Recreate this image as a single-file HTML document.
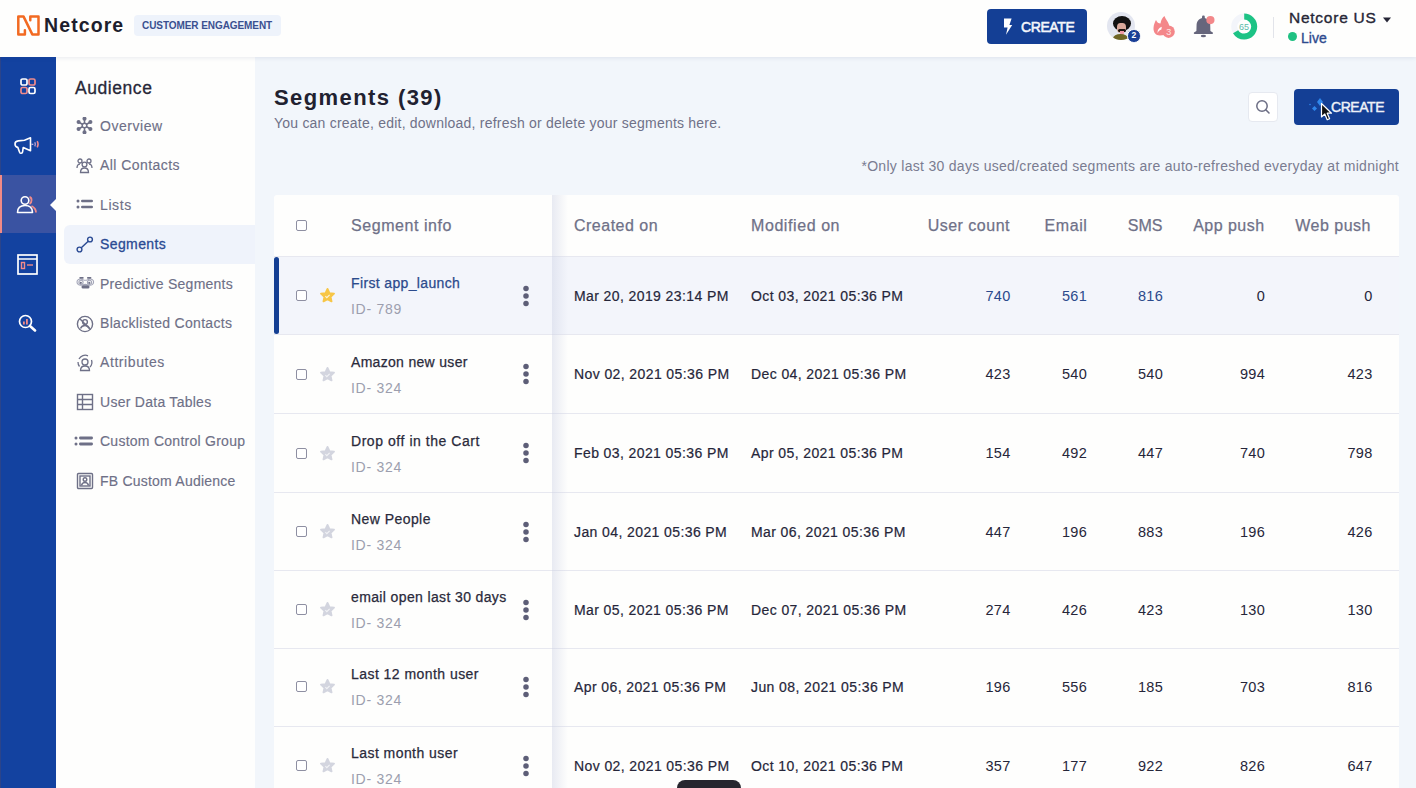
<!DOCTYPE html>
<html><head><meta charset="utf-8"><title>Segments</title>
<style>
*{box-sizing:border-box;margin:0;padding:0}
html,body{width:1416px;height:788px;overflow:hidden;background:#f2f6fb;font-family:"Liberation Sans",sans-serif;color:#26263a}
.a{position:absolute;white-space:nowrap}
#top{position:absolute;left:0;top:0;width:1416px;height:57px;background:#fefefd;box-shadow:0 1px 4px rgba(40,60,110,0.10);z-index:5}
#rail{position:absolute;left:0;top:57px;width:56px;height:731px;background:#1342a0;z-index:3}
#side{position:absolute;left:56px;top:57px;width:199px;height:731px;background:#fefefd;z-index:2}
.nav{position:absolute;left:44px;font-size:14px;line-height:16px;color:#6e7087;white-space:nowrap;-webkit-text-stroke:0.15px currentColor}
.nav svg{position:absolute;top:-0.5px;margin-left:1px}
.btn{position:absolute;background:#143f95;color:#fff;border-radius:4px;font-weight:bold;font-size:14px}
.row{position:absolute;left:274px;width:1125px;background:#fefefd;border-bottom:1px solid #e7e8f0}
.cb{position:absolute;left:22px;width:11px;height:11px;border:1.3px solid #8e8fa2;border-radius:2px;background:#fff}
.st{position:absolute;left:45px}
.nm{position:absolute;left:77px;font-size:14px;line-height:16px;color:#2a2a3b;white-space:nowrap;-webkit-text-stroke:0.25px currentColor}
.id{position:absolute;left:77px;font-size:14px;line-height:16px;color:#9c9eae;white-space:nowrap}
.kb{position:absolute;left:248px}
.d{position:absolute;font-size:14px;line-height:16px;color:#26263a;white-space:nowrap;-webkit-text-stroke:0.2px currentColor}
.n{position:absolute;font-size:14.5px;line-height:16px;color:#26263a;text-align:right;width:60px}
.hdr{position:absolute;top:217px;font-size:16px;line-height:18px;color:#6f7188;white-space:nowrap;-webkit-text-stroke:0.25px currentColor}
</style></head>
<body>
<div id="top">
  <svg class="a" style="left:17px;top:15px" width="23" height="22" viewBox="0 0 23 22"><path d="M7.9 15.2 V19.4 H1.3 V1.6 H6.6 L15.3 19.4 H21.5 V1.6 H13.3 V5.2" fill="none" stroke="#f26a22" stroke-width="2.5" stroke-linejoin="round" stroke-linecap="round"/></svg>
  <div class="a" style="left:44px;top:15px;font-size:19.5px;line-height:21px;font-weight:bold;color:#1e1e2d"><span class="k_netcore" style="letter-spacing:1.1px">Netcore</span></div>
  <div class="a" style="left:134px;top:15px;width:147px;height:21px;background:#eef3fb;border-radius:4px"></div>
  <div class="a" style="left:142px;top:20px;font-size:10px;line-height:12px;font-weight:bold;color:#3a5090"><span class="k_ce" style="letter-spacing:-0.07px">CUSTOMER ENGAGEMENT</span></div>
  <div class="btn" style="left:987px;top:9px;width:100px;height:35px"></div>
  <svg class="a" style="left:1003px;top:18px" width="10" height="17" viewBox="0 0 10 17"><path d="M1 0.6 H8.6 L6.4 7 H9.2 L3 16.8 L4.6 9.6 H1 Z" fill="#fff"/></svg>
  <div class="a" style="left:1021px;top:19px;font-size:14px;line-height:16px;color:#f4f6fb;-webkit-text-stroke:0.55px #f4f6fb"><span class="k_create1" style="letter-spacing:-0.4px">CREATE</span></div>
  <div class="a" style="left:1107px;top:12px;width:28px;height:28px;border-radius:50%;background:#e3e6f0;overflow:hidden">
    <div class="a" style="left:5.5px;top:4px;width:18px;height:15px;border-radius:50%;background:#121212"></div>
    <div class="a" style="left:10px;top:11px;width:9px;height:10px;border-radius:40%;background:#d9a89a"></div>
    <div class="a" style="left:10.5px;top:16.5px;width:8px;height:3px;border-radius:2px;background:#1d1410"></div>
    <div class="a" style="left:12.5px;top:19px;width:4px;height:3.5px;border-radius:0 0 2px 2px;background:#f09aa6"></div>
    <div class="a" style="left:6px;top:22px;width:15px;height:9px;border-radius:50%;background:#6f6526"></div>
  </div>
  <div class="a" style="left:1127px;top:29px;width:13.5px;height:13.5px;border-radius:50%;background:#1a3f96;border:1px solid #fff;color:#fff;font-size:8.5px;font-weight:bold;line-height:11.5px;text-align:center">2</div>
  <svg class="a" style="left:1152px;top:14px" width="24" height="26" viewBox="0 0 24 26"><path d="M8 21.5 C3.5 21.5 1.3 18 1.5 14 C1.7 10.5 3 8 4 6 C5 8.5 6.5 9.5 8.5 9.5 C9 6 10.5 3.5 12.5 2 C13.5 5.5 17 8 17.5 13 C18 18 14 21.5 8 21.5 Z" fill="#f4878a"/><path d="M9.8 12.8 C6.8 13.6 5.2 16.2 5.6 19.2 C6.4 17.2 7.8 16 9.4 15.6 Z" fill="#fff"/><circle cx="16.6" cy="17.7" r="6.2" fill="#f4878a"/><text x="16.8" y="21" font-size="9" fill="#fde6e6" text-anchor="middle" font-family="Liberation Sans">3</text></svg>
  <svg class="a" style="left:1192px;top:14px" width="24" height="24" viewBox="0 0 24 24"><path d="M11.4 3.8 C7.8 4.3 5 6.5 4.6 10.5 L4.4 17 L2 18.6 C1.6 19.2 1.8 20 2.6 20 H20.2 C21 20 21.2 19.2 20.8 18.6 L18.4 17 L18.2 10.5 C17.8 6.5 15 4.3 11.4 3.8 Z" fill="#66667c"/><rect x="10" y="1.6" width="2.8" height="3.4" rx="1.2" fill="#66667c"/><ellipse cx="11.4" cy="22" rx="2.6" ry="1.2" fill="#66667c"/><circle cx="18.4" cy="6.1" r="4.1" fill="#f3888a"/></svg>
  <svg class="a" style="left:1230px;top:13px" width="28" height="28" viewBox="0 0 28 28"><circle cx="14.2" cy="13.6" r="10" fill="none" stroke="#f3f5fa" stroke-width="6"/><circle cx="14.2" cy="13.6" r="10" fill="none" stroke="#1dc385" stroke-width="6" stroke-dasharray="41.5 100" transform="rotate(-90 14.2 13.6)"/><text x="14" y="17" font-size="9" fill="#5cbcaa" text-anchor="middle" font-family="Liberation Sans">65</text></svg>
  <div class="a" style="left:1273px;top:17px;width:1px;height:21px;background:#e2e4ea"></div>
  <div class="a" style="left:1289px;top:9px;font-size:15.5px;line-height:17px;color:#262636;-webkit-text-stroke:0.35px currentColor"><span class="k_ncus" style="letter-spacing:0.75px">Netcore US</span></div>
  <svg class="a" style="left:1383px;top:17px" width="8" height="6" viewBox="0 0 8 6"><path d="M0 0.5 H8 L4 5.5 Z" fill="#262636"/></svg>
  <div class="a" style="left:1288px;top:32px;width:9px;height:9px;border-radius:50%;background:#1fc182"></div>
  <div class="a" style="left:1301px;top:29.5px;font-size:14px;line-height:16px;color:#2e4a8e;-webkit-text-stroke:0.35px currentColor"><span class="k_live" style="letter-spacing:0.07px">Live</span></div>
</div>
<div id="rail"><div class="a" style="left:0;top:0;width:1px;height:731px;background:#2b448a"></div>
  <svg class="a" style="left:20px;top:21px" width="16" height="17" viewBox="0 0 16 17"><rect x="1" y="1" width="6" height="6" rx="1.6" fill="none" stroke="#fff" stroke-width="1.7"/><rect x="9" y="1" width="6" height="6" rx="1.6" fill="none" stroke="#f08a8a" stroke-width="1.7"/><rect x="1" y="9.5" width="6" height="6" rx="1.6" fill="none" stroke="#f08a8a" stroke-width="1.7"/><rect x="9" y="9.5" width="6" height="6" rx="1.6" fill="none" stroke="#fff" stroke-width="1.7"/></svg>
  <svg class="a" style="left:14px;top:79px" width="27" height="19" viewBox="0 0 27 19"><path d="M16.5 1.8 L16.5 14.8 L9.2 11.6 L8.6 15.8 C8.3 17.6 6.2 17.8 5.6 16.3 L3.8 11.4 C2 11 1 9.6 1 8 C1 6.1 2.2 5.1 4.2 4.9 L10.5 4.2 Z" fill="none" stroke="#fff" stroke-width="1.6" stroke-linejoin="round"/><path d="M17.5 8.3 H19.3" stroke="#d9c4e4" stroke-width="1.2"/><path d="M20.8 6.2 Q22 8.3 20.8 10.4" fill="none" stroke="#c8a9d6" stroke-width="1.3"/><path d="M23.2 5.2 Q25 8.3 23.2 11.4" fill="none" stroke="#ef8a8e" stroke-width="1.5"/></svg>
  <div class="a" style="left:0;top:118px;width:56px;height:58px;background:#3a53a2"></div>
  <div class="a" style="left:0;top:118px;width:2px;height:58px;background:#f28a86"></div>
  <svg class="a" style="left:16px;top:138px" width="24" height="19" viewBox="0 0 24 19"><circle cx="9" cy="5.5" r="3.8" fill="none" stroke="#fff" stroke-width="1.6"/><path d="M1.5 17.5 C1.5 12 5 10.5 9 10.5 C13 10.5 16.5 12 16.5 17.5 Z" fill="none" stroke="#fff" stroke-width="1.6" stroke-linejoin="round"/><path d="M13.5 2 C16 2.5 16.5 7 13.5 9" fill="none" stroke="#f08a8a" stroke-width="1.8"/><path d="M15.5 11 C18.5 12.5 20 15 20 17.5" fill="none" stroke="#f08a8a" stroke-width="1.8"/></svg>
  <svg class="a" style="left:50px;top:142px" width="6" height="12" viewBox="0 0 6 12"><path d="M6 0 L0 6 L6 12 Z" fill="#fefefd"/></svg>
  <svg class="a" style="left:17px;top:197px" width="21" height="21" viewBox="0 0 21 21"><rect x="1" y="1" width="19" height="19" fill="none" stroke="#fff" stroke-width="1.7"/><path d="M1 5 H20" stroke="#fff" stroke-width="1.5"/><rect x="4.5" y="8.5" width="3" height="6" fill="none" stroke="#f08a8a" stroke-width="1.4"/><path d="M10 11 H16" stroke="#f08a8a" stroke-width="1.4"/></svg>
  <svg class="a" style="left:18px;top:257px" width="19" height="18" viewBox="0 0 19 18"><circle cx="7.5" cy="7.5" r="6" fill="none" stroke="#fff" stroke-width="1.7"/><path d="M12 12 L17 16.5" stroke="#fff" stroke-width="2.6" stroke-linecap="round"/><rect x="5" y="7.5" width="1.8" height="3" fill="#f08a8a"/><rect x="8" y="5" width="1.8" height="5.5" fill="#f08a8a"/></svg>
</div>
<div id="side">
<div class="a" style="left:19px;top:21px;font-size:17.5px;line-height:20px;color:#282838;-webkit-text-stroke:0.3px currentColor"><span class="k_aud" style="letter-spacing:0.56px">Audience</span></div>
<div class="a" style="left:8px;top:168px;width:191px;height:39px;background:#eff3fb;border-radius:6px 0 0 6px"></div>
<div class="nav" style="top:60.9px"><span class="k_nav0" style="letter-spacing:0.53px">Overview</span><svg width="17" height="17" viewBox="0 0 17 17" style="left:-25px"><g stroke="#6e7087" stroke-width="1.5" fill="#6e7087"><path d="M8.5 1.5 V15.5 M2.5 5 L14.5 12 M2.5 12 L14.5 5"/><circle cx="8.5" cy="8.5" r="2.3" fill="#fff"/><circle cx="8.5" cy="1.7" r="1.3"/><circle cx="8.5" cy="15.3" r="1.3"/><circle cx="2.6" cy="5" r="1.3"/><circle cx="14.4" cy="12" r="1.3"/><circle cx="2.6" cy="12" r="1.3"/><circle cx="14.4" cy="5" r="1.3"/></g></svg></div>
<div class="nav" style="top:100.3px"><span class="k_nav1" style="letter-spacing:0.44px">All Contacts</span><svg width="17" height="17" viewBox="0 0 17 17" style="left:-25px"><g stroke="#6e7087" stroke-width="1.3" fill="none"><circle cx="8.5" cy="7.5" r="2.4"/><path d="M4.5 15.5 C4.5 12 6.5 11 8.5 11 C10.5 11 12.5 12 12.5 15.5 Z"/><circle cx="4" cy="4" r="2"/><circle cx="13" cy="4" r="2"/><path d="M1 11 C1 8 2.5 7 4 7 M16 11 C16 8 14.5 7 13 7"/></g></svg></div>
<div class="nav" style="top:139.7px"><span class="k_nav2" style="letter-spacing:0.6px">Lists</span><svg width="18" height="17" viewBox="0 0 18 17" style="left:-25px"><g fill="#6e7087"><circle cx="2" cy="5" r="1.5"/><circle cx="2" cy="11" r="1.5"/><rect x="5" y="3.8" width="12" height="2.4" rx="1.2"/><rect x="5" y="9.8" width="12" height="2.4" rx="1.2"/></g></svg></div>
<div class="nav" style="top:179.2px;color:#2a4a93;-webkit-text-stroke:0.3px #2a4a93"><span class="k_nav3" style="letter-spacing:0.4px">Segments</span><svg width="18" height="17" viewBox="0 0 18 17" style="left:-25px"><g stroke="#2a4a93" stroke-width="1.4" fill="none"><circle cx="3.5" cy="13.5" r="2.4"/><circle cx="14" cy="3.5" r="2.4"/><path d="M5.3 11.7 L12.2 5.3"/></g></svg></div>
<div class="nav" style="top:218.6px"><span class="k_nav4" style="letter-spacing:0.24px">Predictive Segments</span><svg width="19" height="17" viewBox="0 0 19 17" style="left:-25.5px"><g fill="none" stroke="#a4a6b8" stroke-width="1.1"><path d="M1 7 C1 4.6 3.5 3.6 5.5 4.2 C7 4.6 8 5.2 9.3 5.2 C10.6 5.2 11.6 4.6 13.1 4.2 C15.1 3.6 17.6 4.6 17.6 7 C17.6 9.4 15.4 10.6 13.2 10.2 C11.8 10 10.8 9.4 9.3 9.4 C7.8 9.4 6.8 10 5.4 10.2 C3.2 10.6 1 9.4 1 7 Z"/><circle cx="5" cy="7.3" r="2.1"/><circle cx="13.5" cy="7.3" r="2.1"/></g><g fill="#6e7087"><rect x="3.3" y="2" width="4.4" height="1.7" rx="0.8"/><rect x="11" y="2" width="4.4" height="1.7" rx="0.8"/><circle cx="4.8" cy="7.8" r="1.1"/><circle cx="13.3" cy="7.8" r="1.1"/><rect x="5.5" y="10.3" width="8" height="3.3" rx="1.5"/></g></svg></div>
<div class="nav" style="top:258.0px"><span class="k_nav5" style="letter-spacing:0.31px">Blacklisted Contacts</span><svg width="18" height="18" viewBox="0 0 18 18" style="left:-25px"><g stroke="#6e7087" stroke-width="1.4" fill="none"><circle cx="9" cy="9" r="7.6"/><circle cx="9" cy="7" r="2.4"/><path d="M4.5 13.5 C5.5 11 7 10.5 9 10.5 C11 10.5 12.5 11 13.5 13.5"/><path d="M3.6 3.6 L14.4 14.4"/></g></svg></div>
<div class="nav" style="top:297.4px"><span class="k_nav6" style="letter-spacing:0.58px">Attributes</span><svg width="18" height="18" viewBox="0 0 18 18" style="left:-25px"><g stroke="#6e7087" stroke-width="1.3" fill="none"><circle cx="9" cy="8" r="3"/><path d="M4.5 16.5 C4.5 13 6.5 12 9 12 C11.5 12 13.5 13 13.5 16.5 Z"/><path d="M3 5 A7 7 0 0 1 12 1.8 M15.5 6 A7 7 0 0 1 14 13 M2 8 A7 7 0 0 0 3.5 12.5"/></g></svg></div>
<div class="nav" style="top:336.8px"><span class="k_nav7" style="letter-spacing:0.27px">User Data Tables</span><svg width="18" height="18" viewBox="0 0 18 18" style="left:-25px"><g stroke="#6e7087" stroke-width="1.4" fill="none"><rect x="1.5" y="1.5" width="15" height="15"/><path d="M1.5 6.5 H16.5 M1.5 11.5 H16.5 M6.5 1.5 V16.5"/></g></svg></div>
<div class="nav" style="top:376.3px"><span class="k_nav8" style="letter-spacing:0.26px">Custom Control Group</span><svg width="20" height="17" viewBox="0 0 20 17" style="left:-27px"><g fill="#6e7087"><circle cx="2" cy="5" r="1.5"/><circle cx="2" cy="11" r="1.5"/><rect x="5" y="3.6" width="14" height="2.8" rx="1.4"/><rect x="5" y="9.6" width="14" height="2.8" rx="1.4"/></g></svg></div>
<div class="nav" style="top:415.7px"><span class="k_nav9" style="letter-spacing:0.22px">FB Custom Audience</span><svg width="18" height="18" viewBox="0 0 18 18" style="left:-25px"><g stroke="#6e7087" stroke-width="1.4" fill="none"><rect x="1.5" y="1.5" width="15" height="15" rx="1"/><rect x="4" y="4" width="10" height="10"/><circle cx="9" cy="7.5" r="1.8"/><path d="M5.5 13.5 C6 11 7.5 10.5 9 10.5 C10.5 10.5 12 11 12.5 13.5"/></g></svg></div>
</div>

<div class="a" style="left:274px;top:85px;font-size:22px;line-height:25px;font-weight:bold;color:#212130"><span class="k_title" style="letter-spacing:1.41px">Segments (39)</span></div>
<div class="a" style="left:274px;top:115px;font-size:14px;line-height:16px;color:#6f7188"><span class="k_sub" style="letter-spacing:0.22px">You can create, edit, download, refresh or delete your segments here.</span></div>
<div class="a" style="left:1248px;top:92px;width:30px;height:30px;background:#fff;border:1px solid #e6e9f0;border-radius:4px"></div>
<svg class="a" style="left:1255px;top:99px" width="16" height="16" viewBox="0 0 16 16"><circle cx="7" cy="7" r="5.2" fill="none" stroke="#6b6d84" stroke-width="1.5"/><path d="M10.8 10.8 L14 14" stroke="#6b6d84" stroke-width="1.6" stroke-linecap="round"/></svg>
<div class="btn" style="left:1294px;top:89px;width:105px;height:36px"></div>
<div class="a" style="left:1331px;top:99px;font-size:14px;line-height:16px;color:#eef1f8;-webkit-text-stroke:0.45px #eef1f8"><span class="k_create2" style="letter-spacing:-0.45px">CREATE</span></div>
<svg class="a" style="left:1306px;top:97px" width="22" height="18" viewBox="0 0 22 18"><path d="M14 1 L17 5 L14 9 L11 5 Z" fill="#2f86ea"/><path d="M8.5 9 L11 11.5 L8.5 14 L6 11.5 Z" fill="#2f86ea"/><circle cx="4" cy="7.5" r="0.8" fill="#2f86ea"/></svg>
<svg class="a" style="left:1320px;top:102px" width="14" height="20" viewBox="0 0 14 20"><path d="M1.5 1.5 L1.5 15 L4.8 12 L7.2 17.8 L9.6 16.8 L7.2 11.2 L11.5 11.2 Z" fill="#111" stroke="#fff" stroke-width="1.2" stroke-linejoin="round"/></svg>
<div class="a" style="right:17px;top:158px;font-size:14px;line-height:16px;color:#7a7c91"><span class="k_note" style="letter-spacing:0.29px">*Only last 30 days used/created segments are auto-refreshed everyday at midnight</span></div>
<div class="a" style="left:274px;top:195px;width:1125px;height:62px;background:#fefefd;border-bottom:1px solid #e7e8f0;border-radius:3px 3px 0 0"></div>
<div class="a" style="left:296px;top:220px;width:11px;height:11px;border:1.3px solid #8e8fa2;border-radius:2px;background:#fff"></div>
<div class="hdr" style="left:351px"><span class="k_h0" style="letter-spacing:0.56px">Segment info</span></div>
<div class="hdr" style="left:574px"><span class="k_h1" style="letter-spacing:0.49px">Created on</span></div>
<div class="hdr" style="left:751px"><span class="k_h2" style="letter-spacing:0.58px">Modified on</span></div>
<div class="hdr" style="right:406px"><span class="k_h3" style="letter-spacing:0.5px">User count</span></div>
<div class="hdr" style="right:328.5px"><span class="k_h4" style="letter-spacing:0.62px">Email</span></div>
<div class="hdr" style="right:253.5px"><span class="k_h5" style="letter-spacing:0.05px">SMS</span></div>
<div class="hdr" style="right:151.5px"><span class="k_h6" style="letter-spacing:0.47px">App push</span></div>
<div class="hdr" style="right:45px"><span class="k_h7" style="letter-spacing:0.5px">Web push</span></div>
<div class="row" style="top:257px;height:78px;background:#f3f5fb"><div class="a" style="left:0;top:0;width:5px;height:77px;background:#143f93;border-radius:3px"></div><div class="cb" style="top:33.0px"></div><svg class="st" style="left:44.5px;top:30.0px" width="17" height="17" viewBox="0 0 24 24"><path d="M12 2.6 L14.8 8.6 L21.2 9.4 L16.4 13.9 L17.7 20.3 L12 17.1 L6.3 20.3 L7.6 13.9 L2.8 9.4 L9.2 8.6 Z" fill="#f7c646" stroke="#f7c646" stroke-width="2.6" stroke-linejoin="round"/><path d="M9 13 L11 15 L15 11" fill="none" stroke="#fff" stroke-width="1.6" opacity="0.8"/></svg><div class="nm" style="top:18.2px;color:#2b4a8c"><span class="k_nm0" style="letter-spacing:0.36px">First app_launch</span></div><div class="id" style="top:44.1px"><span class="k_id0" style="letter-spacing:0.72px">ID- 789</span></div><svg class="kb" style="top:27.5px" width="8" height="22" viewBox="0 0 8 22"><circle cx="4" cy="3.6" r="2.75" fill="#5d5e77"/><circle cx="4" cy="11" r="2.75" fill="#5d5e77"/><circle cx="4" cy="18.4" r="2.75" fill="#5d5e77"/></svg><div class="d" style="left:300px;top:30.8px"><span class="k_da0" style="letter-spacing:0.4px">Mar 20, 2019 23:14 PM</span></div><div class="d" style="left:477px;top:30.8px"><span class="k_db0" style="letter-spacing:0.4px">Oct 03, 2021 05:36 PM</span></div><div class="n" style="left:676.5px;top:30.8px;color:#2b4a8c"><span class="k_n00" style="letter-spacing:0.3px">740</span></div><div class="n" style="left:753.0px;top:30.8px;color:#2b4a8c"><span class="k_n01" style="letter-spacing:0.3px">561</span></div><div class="n" style="left:829.0px;top:30.8px;color:#2b4a8c"><span class="k_n02" style="letter-spacing:0.3px">816</span></div><div class="n" style="left:931.0px;top:30.8px;color:#26263a"><span class="k_n03" style="letter-spacing:0.3px">0</span></div><div class="n" style="left:1038.5px;top:30.8px;color:#26263a"><span class="k_n04" style="letter-spacing:0.3px">0</span></div></div>
<div class="row" style="top:335px;height:79px;background:#fefefd"><div class="cb" style="top:33.5px"></div><svg class="st" style="left:44.5px;top:30.5px" width="17" height="17" viewBox="0 0 24 24"><path d="M12 2.6 L14.8 8.6 L21.2 9.4 L16.4 13.9 L17.7 20.3 L12 17.1 L6.3 20.3 L7.6 13.9 L2.8 9.4 L9.2 8.6 Z" fill="#d3d5df" stroke="#d3d5df" stroke-width="2.6" stroke-linejoin="round"/><path d="M9 13 L11 15 L15 11" fill="none" stroke="#fff" stroke-width="1.6" opacity="0.7"/></svg><div class="nm" style="top:18.7px;color:#2a2a3b"><span class="k_nm1" style="letter-spacing:0.31px">Amazon new user</span></div><div class="id" style="top:44.6px"><span class="k_id1" style="letter-spacing:0.72px">ID- 324</span></div><svg class="kb" style="top:28.0px" width="8" height="22" viewBox="0 0 8 22"><circle cx="4" cy="3.6" r="2.75" fill="#5d5e77"/><circle cx="4" cy="11" r="2.75" fill="#5d5e77"/><circle cx="4" cy="18.4" r="2.75" fill="#5d5e77"/></svg><div class="d" style="left:300px;top:31.3px"><span class="k_da1" style="letter-spacing:0.4px">Nov 02, 2021 05:36 PM</span></div><div class="d" style="left:477px;top:31.3px"><span class="k_db1" style="letter-spacing:0.4px">Dec 04, 2021 05:36 PM</span></div><div class="n" style="left:676.5px;top:31.3px;color:#26263a"><span class="k_n10" style="letter-spacing:0.3px">423</span></div><div class="n" style="left:753.0px;top:31.3px;color:#26263a"><span class="k_n11" style="letter-spacing:0.3px">540</span></div><div class="n" style="left:829.0px;top:31.3px;color:#26263a"><span class="k_n12" style="letter-spacing:0.3px">540</span></div><div class="n" style="left:931.0px;top:31.3px;color:#26263a"><span class="k_n13" style="letter-spacing:0.3px">994</span></div><div class="n" style="left:1038.5px;top:31.3px;color:#26263a"><span class="k_n14" style="letter-spacing:0.3px">423</span></div></div>
<div class="row" style="top:414px;height:79px;background:#fefefd"><div class="cb" style="top:33.5px"></div><svg class="st" style="left:44.5px;top:30.5px" width="17" height="17" viewBox="0 0 24 24"><path d="M12 2.6 L14.8 8.6 L21.2 9.4 L16.4 13.9 L17.7 20.3 L12 17.1 L6.3 20.3 L7.6 13.9 L2.8 9.4 L9.2 8.6 Z" fill="#d3d5df" stroke="#d3d5df" stroke-width="2.6" stroke-linejoin="round"/><path d="M9 13 L11 15 L15 11" fill="none" stroke="#fff" stroke-width="1.6" opacity="0.7"/></svg><div class="nm" style="top:18.7px;color:#2a2a3b"><span class="k_nm2" style="letter-spacing:0.55px">Drop off in the Cart</span></div><div class="id" style="top:44.6px"><span class="k_id2" style="letter-spacing:0.72px">ID- 324</span></div><svg class="kb" style="top:28.0px" width="8" height="22" viewBox="0 0 8 22"><circle cx="4" cy="3.6" r="2.75" fill="#5d5e77"/><circle cx="4" cy="11" r="2.75" fill="#5d5e77"/><circle cx="4" cy="18.4" r="2.75" fill="#5d5e77"/></svg><div class="d" style="left:300px;top:31.3px"><span class="k_da2" style="letter-spacing:0.4px">Feb 03, 2021 05:36 PM</span></div><div class="d" style="left:477px;top:31.3px"><span class="k_db2" style="letter-spacing:0.4px">Apr 05, 2021 05:36 PM</span></div><div class="n" style="left:676.5px;top:31.3px;color:#26263a"><span class="k_n20" style="letter-spacing:0.3px">154</span></div><div class="n" style="left:753.0px;top:31.3px;color:#26263a"><span class="k_n21" style="letter-spacing:0.3px">492</span></div><div class="n" style="left:829.0px;top:31.3px;color:#26263a"><span class="k_n22" style="letter-spacing:0.3px">447</span></div><div class="n" style="left:931.0px;top:31.3px;color:#26263a"><span class="k_n23" style="letter-spacing:0.3px">740</span></div><div class="n" style="left:1038.5px;top:31.3px;color:#26263a"><span class="k_n24" style="letter-spacing:0.3px">798</span></div></div>
<div class="row" style="top:493px;height:78px;background:#fefefd"><div class="cb" style="top:33.0px"></div><svg class="st" style="left:44.5px;top:30.0px" width="17" height="17" viewBox="0 0 24 24"><path d="M12 2.6 L14.8 8.6 L21.2 9.4 L16.4 13.9 L17.7 20.3 L12 17.1 L6.3 20.3 L7.6 13.9 L2.8 9.4 L9.2 8.6 Z" fill="#d3d5df" stroke="#d3d5df" stroke-width="2.6" stroke-linejoin="round"/><path d="M9 13 L11 15 L15 11" fill="none" stroke="#fff" stroke-width="1.6" opacity="0.7"/></svg><div class="nm" style="top:18.2px;color:#2a2a3b"><span class="k_nm3" style="letter-spacing:0.44px">New People</span></div><div class="id" style="top:44.1px"><span class="k_id3" style="letter-spacing:0.72px">ID- 324</span></div><svg class="kb" style="top:27.5px" width="8" height="22" viewBox="0 0 8 22"><circle cx="4" cy="3.6" r="2.75" fill="#5d5e77"/><circle cx="4" cy="11" r="2.75" fill="#5d5e77"/><circle cx="4" cy="18.4" r="2.75" fill="#5d5e77"/></svg><div class="d" style="left:300px;top:30.8px"><span class="k_da3" style="letter-spacing:0.4px">Jan 04, 2021 05:36 PM</span></div><div class="d" style="left:477px;top:30.8px"><span class="k_db3" style="letter-spacing:0.4px">Mar 06, 2021 05:36 PM</span></div><div class="n" style="left:676.5px;top:30.8px;color:#26263a"><span class="k_n30" style="letter-spacing:0.3px">447</span></div><div class="n" style="left:753.0px;top:30.8px;color:#26263a"><span class="k_n31" style="letter-spacing:0.3px">196</span></div><div class="n" style="left:829.0px;top:30.8px;color:#26263a"><span class="k_n32" style="letter-spacing:0.3px">883</span></div><div class="n" style="left:931.0px;top:30.8px;color:#26263a"><span class="k_n33" style="letter-spacing:0.3px">196</span></div><div class="n" style="left:1038.5px;top:30.8px;color:#26263a"><span class="k_n34" style="letter-spacing:0.3px">426</span></div></div>
<div class="row" style="top:571px;height:78px;background:#fefefd"><div class="cb" style="top:33.0px"></div><svg class="st" style="left:44.5px;top:30.0px" width="17" height="17" viewBox="0 0 24 24"><path d="M12 2.6 L14.8 8.6 L21.2 9.4 L16.4 13.9 L17.7 20.3 L12 17.1 L6.3 20.3 L7.6 13.9 L2.8 9.4 L9.2 8.6 Z" fill="#d3d5df" stroke="#d3d5df" stroke-width="2.6" stroke-linejoin="round"/><path d="M9 13 L11 15 L15 11" fill="none" stroke="#fff" stroke-width="1.6" opacity="0.7"/></svg><div class="nm" style="top:18.2px;color:#2a2a3b"><span class="k_nm4" style="letter-spacing:0.37px">email open last 30 days</span></div><div class="id" style="top:44.1px"><span class="k_id4" style="letter-spacing:0.72px">ID- 324</span></div><svg class="kb" style="top:27.5px" width="8" height="22" viewBox="0 0 8 22"><circle cx="4" cy="3.6" r="2.75" fill="#5d5e77"/><circle cx="4" cy="11" r="2.75" fill="#5d5e77"/><circle cx="4" cy="18.4" r="2.75" fill="#5d5e77"/></svg><div class="d" style="left:300px;top:30.8px"><span class="k_da4" style="letter-spacing:0.4px">Mar 05, 2021 05:36 PM</span></div><div class="d" style="left:477px;top:30.8px"><span class="k_db4" style="letter-spacing:0.4px">Dec 07, 2021 05:36 PM</span></div><div class="n" style="left:676.5px;top:30.8px;color:#26263a"><span class="k_n40" style="letter-spacing:0.3px">274</span></div><div class="n" style="left:753.0px;top:30.8px;color:#26263a"><span class="k_n41" style="letter-spacing:0.3px">426</span></div><div class="n" style="left:829.0px;top:30.8px;color:#26263a"><span class="k_n42" style="letter-spacing:0.3px">423</span></div><div class="n" style="left:931.0px;top:30.8px;color:#26263a"><span class="k_n43" style="letter-spacing:0.3px">130</span></div><div class="n" style="left:1038.5px;top:30.8px;color:#26263a"><span class="k_n44" style="letter-spacing:0.3px">130</span></div></div>
<div class="row" style="top:649px;height:78px;background:#fefefd"><div class="cb" style="top:32.0px"></div><svg class="st" style="left:44.5px;top:29.0px" width="17" height="17" viewBox="0 0 24 24"><path d="M12 2.6 L14.8 8.6 L21.2 9.4 L16.4 13.9 L17.7 20.3 L12 17.1 L6.3 20.3 L7.6 13.9 L2.8 9.4 L9.2 8.6 Z" fill="#d3d5df" stroke="#d3d5df" stroke-width="2.6" stroke-linejoin="round"/><path d="M9 13 L11 15 L15 11" fill="none" stroke="#fff" stroke-width="1.6" opacity="0.7"/></svg><div class="nm" style="top:17.2px;color:#2a2a3b"><span class="k_nm5" style="letter-spacing:0.45px">Last 12 month user</span></div><div class="id" style="top:43.1px"><span class="k_id5" style="letter-spacing:0.72px">ID- 324</span></div><svg class="kb" style="top:26.5px" width="8" height="22" viewBox="0 0 8 22"><circle cx="4" cy="3.6" r="2.75" fill="#5d5e77"/><circle cx="4" cy="11" r="2.75" fill="#5d5e77"/><circle cx="4" cy="18.4" r="2.75" fill="#5d5e77"/></svg><div class="d" style="left:300px;top:29.8px"><span class="k_da5" style="letter-spacing:0.4px">Apr 06, 2021 05:36 PM</span></div><div class="d" style="left:477px;top:29.8px"><span class="k_db5" style="letter-spacing:0.4px">Jun 08, 2021 05:36 PM</span></div><div class="n" style="left:676.5px;top:29.8px;color:#26263a"><span class="k_n50" style="letter-spacing:0.3px">196</span></div><div class="n" style="left:753.0px;top:29.8px;color:#26263a"><span class="k_n51" style="letter-spacing:0.3px">556</span></div><div class="n" style="left:829.0px;top:29.8px;color:#26263a"><span class="k_n52" style="letter-spacing:0.3px">185</span></div><div class="n" style="left:931.0px;top:29.8px;color:#26263a"><span class="k_n53" style="letter-spacing:0.3px">703</span></div><div class="n" style="left:1038.5px;top:29.8px;color:#26263a"><span class="k_n54" style="letter-spacing:0.3px">816</span></div></div>
<div class="row" style="top:727px;height:78px;background:#fefefd"><div class="cb" style="top:33.0px"></div><svg class="st" style="left:44.5px;top:30.0px" width="17" height="17" viewBox="0 0 24 24"><path d="M12 2.6 L14.8 8.6 L21.2 9.4 L16.4 13.9 L17.7 20.3 L12 17.1 L6.3 20.3 L7.6 13.9 L2.8 9.4 L9.2 8.6 Z" fill="#d3d5df" stroke="#d3d5df" stroke-width="2.6" stroke-linejoin="round"/><path d="M9 13 L11 15 L15 11" fill="none" stroke="#fff" stroke-width="1.6" opacity="0.7"/></svg><div class="nm" style="top:18.2px;color:#2a2a3b"><span class="k_nm6" style="letter-spacing:0.44px">Last month user</span></div><div class="id" style="top:44.1px"><span class="k_id6" style="letter-spacing:0.72px">ID- 324</span></div><svg class="kb" style="top:27.5px" width="8" height="22" viewBox="0 0 8 22"><circle cx="4" cy="3.6" r="2.75" fill="#5d5e77"/><circle cx="4" cy="11" r="2.75" fill="#5d5e77"/><circle cx="4" cy="18.4" r="2.75" fill="#5d5e77"/></svg><div class="d" style="left:300px;top:30.8px"><span class="k_da6" style="letter-spacing:0.4px">Nov 02, 2021 05:36 PM</span></div><div class="d" style="left:477px;top:30.8px"><span class="k_db6" style="letter-spacing:0.4px">Oct 10, 2021 05:36 PM</span></div><div class="n" style="left:676.5px;top:30.8px;color:#26263a"><span class="k_n60" style="letter-spacing:0.3px">357</span></div><div class="n" style="left:753.0px;top:30.8px;color:#26263a"><span class="k_n61" style="letter-spacing:0.3px">177</span></div><div class="n" style="left:829.0px;top:30.8px;color:#26263a"><span class="k_n62" style="letter-spacing:0.3px">922</span></div><div class="n" style="left:931.0px;top:30.8px;color:#26263a"><span class="k_n63" style="letter-spacing:0.3px">826</span></div><div class="n" style="left:1038.5px;top:30.8px;color:#26263a"><span class="k_n64" style="letter-spacing:0.3px">647</span></div></div>
<div class="a" style="left:552px;top:195px;width:16px;height:593px;background:linear-gradient(90deg,rgba(205,210,228,0.45),rgba(205,210,228,0))"></div>
<div class="a" style="left:677px;top:780px;width:64px;height:16px;background:#26262e;border-radius:8px"></div>

</body></html>
